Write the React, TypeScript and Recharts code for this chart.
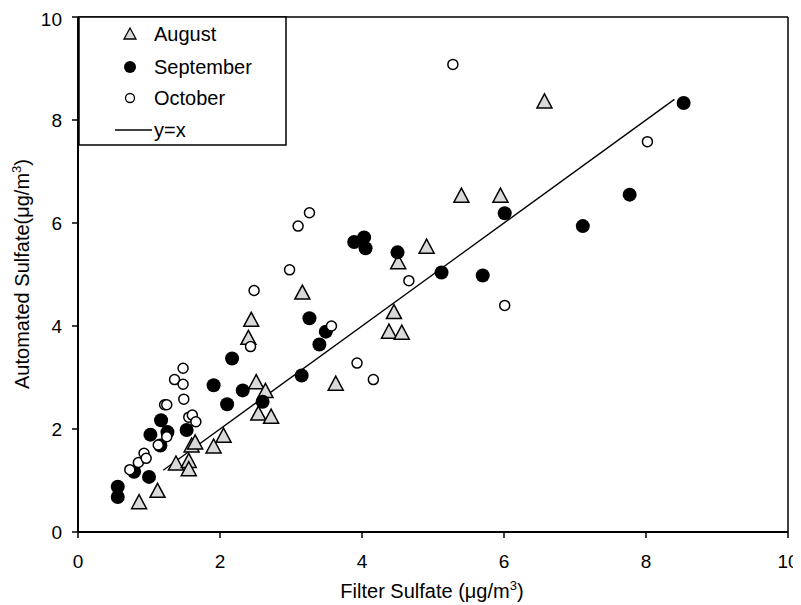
import React from "react";
import { ScatterChart, Scatter, XAxis, YAxis, ReferenceLine } from "recharts";

type Pt = [number, number];

// [filter, automated] pairs
const august: Pt[] = [
  [0.86, 0.58], [1.12, 0.8], [1.38, 1.33], [1.56, 1.38], [1.56, 1.22],
  [1.6, 1.68], [1.65, 1.74], [1.91, 1.66], [2.05, 1.87], [2.4, 3.77],
  [2.44, 4.12], [2.51, 2.91], [2.64, 2.74], [2.54, 2.3], [2.72, 2.24],
  [3.16, 4.65], [3.63, 2.88], [4.38, 3.89], [4.56, 3.87], [4.45, 4.27],
  [4.51, 5.24], [4.91, 5.54], [5.4, 6.53], [5.95, 6.53], [6.57, 8.36],
];

const september: Pt[] = [
  [0.56, 0.88], [0.56, 0.68], [0.79, 1.17], [1.0, 1.07], [1.02, 1.89],
  [1.17, 2.17], [1.26, 1.94], [1.16, 1.68], [1.53, 1.98], [1.91, 2.85],
  [2.17, 3.37], [2.1, 2.48], [2.32, 2.75], [2.6, 2.53], [3.15, 3.04],
  [3.26, 4.15], [3.4, 3.64], [3.49, 3.89], [3.89, 5.63], [4.03, 5.72],
  [4.05, 5.51], [4.5, 5.43], [5.12, 5.04], [5.7, 4.98], [6.01, 6.19],
  [7.11, 5.94], [7.77, 6.55], [8.53, 8.33],
];

const october: Pt[] = [
  [0.73, 1.21], [0.85, 1.35], [0.93, 1.53], [0.96, 1.43], [1.13, 1.69],
  [1.25, 1.85], [1.22, 2.47], [1.25, 2.47], [1.36, 2.96], [1.48, 3.18],
  [1.48, 2.87], [1.49, 2.58], [1.56, 2.23], [1.61, 2.27], [1.66, 2.14],
  [2.43, 3.6], [2.48, 4.69], [2.98, 5.09], [3.1, 5.94], [3.26, 6.2],
  [3.57, 4.0], [3.93, 3.28], [4.16, 2.96], [4.66, 4.88], [5.28, 9.08],
  [6.01, 4.4], [8.02, 7.58],
];

// y=x reference drawn over this x range
const identityRange = [1.2, 8.4];

const axisTicks = [0, 2, 4, 6, 8, 10];
const seriesNames = ["August", "September", "October", "y=x"];

const FONT = '"Liberation Sans", Arial, sans-serif';
const W = 793;
const H = 597;

const toXY = (pts: Pt[]) => pts.map(([x, y]) => ({ x, y }));
const lineData = identityRange.map((v) => ({ x: v, y: v }));

function Triangle(props: any) {
  const { cx, cy } = props;
  if (cx == null || cy == null) return null;
  return (
    <polygon
      points={`${cx},${cy - 7.5} ${cx - 7.5},${cy + 6.5} ${cx + 7.5},${cy + 6.5}`}
      fill="#d9d9d9"
      stroke="#000"
      strokeWidth={1.5}
    />
  );
}

function FilledDot(props: any) {
  const { cx, cy } = props;
  if (cx == null || cy == null) return null;
  return <circle cx={cx} cy={cy} r={7} fill="#000" />;
}

function OpenDot(props: any) {
  const { cx, cy } = props;
  if (cx == null || cy == null) return null;
  return <circle cx={cx} cy={cy} r={5} fill="#fff" stroke="#000" strokeWidth={1.5} />;
}

function XTitle() {
  return (
    <text x={424} y={590} textAnchor="middle" fontFamily={FONT} fontSize={20} fill="#000">
      Filter Sulfate (μg/m
      <tspan dy={-8} fontSize={13}>3</tspan>
      <tspan dy={8}>)</tspan>
    </text>
  );
}

function YTitle() {
  return (
    <text
      x={0}
      y={0}
      transform="translate(21,266) rotate(-90)"
      textAnchor="middle"
      fontFamily={FONT}
      fontSize={20}
      fill="#000"
    >
      Automated Sulfate(μg/m
      <tspan dy={-8} fontSize={13}>3</tspan>
      <tspan dy={8}>)</tspan>
    </text>
  );
}

function LegendBox() {
  const rowY = [18, 51, 82, 114];
  return (
    <svg
      width={209}
      height={130}
      style={{ position: "absolute", left: 70, top: 8 }}
    >
      <rect x={1} y={1} width={207} height={128} fill="#fff" stroke="#000" strokeWidth={1.5} />
      <polygon
        points={`52,${rowY[0] - 6} 46,${rowY[0] + 5} 58,${rowY[0] + 5}`}
        fill="#d9d9d9"
        stroke="#000"
        strokeWidth={1.3}
      />
      <circle cx={52} cy={rowY[1]} r={6} fill="#000" />
      <circle cx={52} cy={rowY[2]} r={4.5} fill="#fff" stroke="#000" strokeWidth={1.3} />
      <line x1={37} x2={74} y1={rowY[3]} y2={rowY[3]} stroke="#000" strokeWidth={1.3} />
      {seriesNames.map((name, i) => (
        <text
          key={name}
          x={76}
          y={rowY[i]}
          dominantBaseline="central"
          fontFamily={FONT}
          fontSize={20}
          fill="#000"
        >
          {name}
        </text>
      ))}
    </svg>
  );
}

export default function App() {
  const tickStyle = { fontFamily: FONT, fontSize: 19, fill: "#000" };
  return (
    <div style={{ position: "relative", width: W, height: H }}>
      <ScatterChart
        width={W}
        height={H}
        margin={{ top: 9, right: 13, bottom: 13, left: 20 }}
      >
        <XAxis
          type="number"
          dataKey="x"
          domain={[0, 10]}
          ticks={axisTicks}
          height={60}
          axisLine={{ stroke: "#000", strokeWidth: 2 }}
          tickLine={{ stroke: "#000", strokeWidth: 1.5 }}
          tickSize={6}
          tickMargin={17}
          tick={tickStyle}
          label={<XTitle />}
        />
        <YAxis
          type="number"
          dataKey="y"
          domain={[0, 10]}
          ticks={axisTicks}
          width={50}
          axisLine={{ stroke: "#000", strokeWidth: 2 }}
          tickLine={{ stroke: "#000", strokeWidth: 1.5 }}
          tickSize={6}
          tickMargin={10}
          tick={tickStyle}
          label={<YTitle />}
        />
        <ReferenceLine y={10} stroke="#000" strokeWidth={1.5} />
        <ReferenceLine x={10} stroke="#000" strokeWidth={1.5} />
        <Scatter
          name="y=x"
          data={lineData}
          line={{ stroke: "#000", strokeWidth: 1.3 }}
          shape={() => <g />}
          isAnimationActive={false}
        />
        <Scatter name="August" data={toXY(august)} shape={Triangle} isAnimationActive={false} />
        <Scatter name="September" data={toXY(september)} shape={FilledDot} isAnimationActive={false} />
        <Scatter name="October" data={toXY(october)} shape={OpenDot} isAnimationActive={false} />
      </ScatterChart>
      <LegendBox />
    </div>
  );
}
